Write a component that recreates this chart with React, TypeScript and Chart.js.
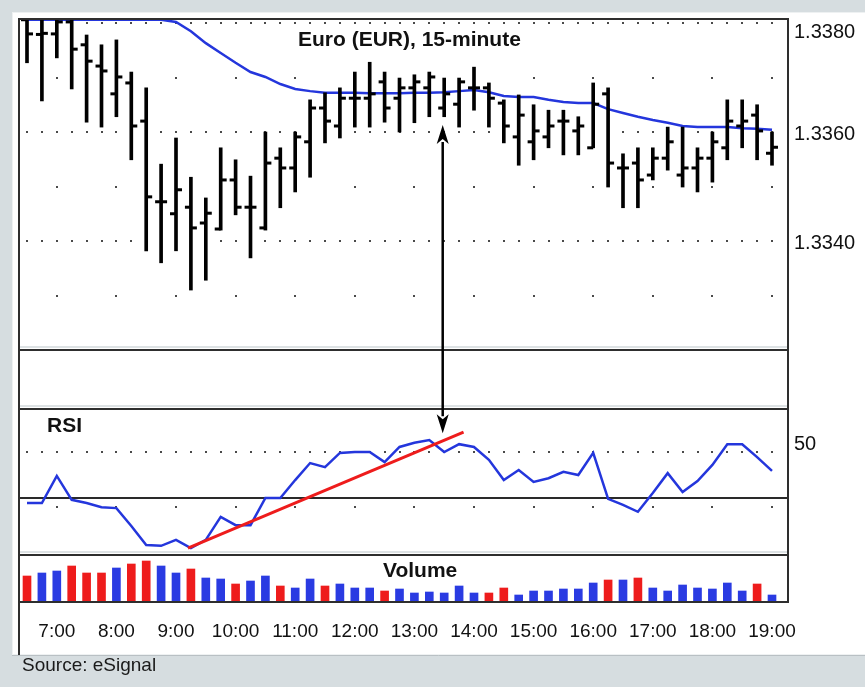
import React, { useEffect, useRef } from 'react';
import { Chart, registerables } from 'chart.js';

Chart.register(...registerables);

// ---------------- DATA ----------------
const hourLabels = ['7:00', '8:00', '9:00', '10:00', '11:00', '12:00', '13:00', '14:00', '15:00', '16:00', '17:00', '18:00', '19:00'];
const FIRST_HOUR_INDEX = 2; // bar index of 7:00 (first bar is 6:30)
const BARS_PER_HOUR = 4; // 15-minute bars

const open = [
  1.33806, 1.33779, 1.3378, 1.33802, 1.3376, 1.33721, 1.3367, 1.3369, 1.3362, 1.33472,
  1.3345, 1.33462, 1.33433, 1.33422, 1.33512, 1.33462, 1.33424, 1.33552, 1.33534, 1.33582,
  1.33644, 1.33611, 1.33662, 1.33662, 1.33692, 1.33662, 1.33681, 1.33681, 1.33644, 1.33651,
  1.33681, 1.33681, 1.33653, 1.33591, 1.33582, 1.33591, 1.3362, 1.33602, 1.33571, 1.3367,
  1.33534, 1.33543, 1.33521, 1.33552, 1.33521, 1.33534, 1.33552, 1.33571, 1.33611, 1.33631,
  1.33561,
];
const high = [
  1.33822, 1.33818, 1.3382, 1.33815, 1.33778, 1.3376, 1.33769, 1.3371, 1.33681, 1.33541,
  1.33589, 1.33517, 1.33479, 1.33571, 1.33549, 1.33519, 1.336, 1.33571, 1.336, 1.33659,
  1.33672, 1.33681, 1.3371, 1.33728, 1.3371, 1.33699, 1.33705, 1.3371, 1.33699, 1.33699,
  1.33719, 1.3369, 1.33659, 1.33668, 1.3365, 1.3364, 1.3364, 1.33628, 1.3369, 1.33681,
  1.3356, 1.33571, 1.33571, 1.33609, 1.33609, 1.33571, 1.336, 1.33659, 1.33659, 1.3365,
  1.336,
];
const low = [
  1.33727, 1.33657, 1.33736, 1.33679, 1.33618, 1.33609, 1.33628, 1.33549, 1.33382, 1.3336,
  1.33382, 1.3331, 1.33328, 1.3342, 1.33448, 1.33369, 1.3342, 1.33461, 1.3349, 1.33517,
  1.3358, 1.33589, 1.33609, 1.33609, 1.33618, 1.336, 1.33617, 1.33628, 1.33628, 1.33609,
  1.3364, 1.33609, 1.3358, 1.33539, 1.33549, 1.33571, 1.33558, 1.33558, 1.33571, 1.33499,
  1.33461, 1.33461, 1.33512, 1.3353, 1.33499, 1.3349, 1.33508, 1.33549, 1.33571, 1.33549,
  1.33539,
];
const close = [
  1.3378, 1.33781, 1.33802, 1.33752, 1.3373, 1.33712, 1.33701, 1.33611, 1.33481, 1.33472,
  1.33494, 1.33424, 1.33451, 1.33512, 1.33462, 1.33462, 1.33543, 1.33534, 1.33591, 1.33644,
  1.3362, 1.33662, 1.33662, 1.3367, 1.33644, 1.33681, 1.33692, 1.33701, 1.3367, 1.33692,
  1.33681, 1.33662, 1.33611, 1.33631, 1.33602, 1.33611, 1.3362, 1.33611, 1.33651, 1.33543,
  1.33534, 1.33512, 1.33552, 1.33582, 1.33534, 1.33552, 1.33582, 1.3362, 1.3362, 1.33602,
  1.33572,
];
const movingAverage = [
  1.33806, 1.33806, 1.33806, 1.33806, 1.33806, 1.33806, 1.33806, 1.33806, 1.33806, 1.33806,
  1.33802, 1.33785, 1.33763, 1.33745, 1.33727, 1.3371, 1.33701, 1.33688, 1.33679, 1.33675,
  1.33672, 1.33672, 1.33672, 1.33671, 1.33671, 1.33671, 1.33672, 1.33672, 1.33673, 1.33675,
  1.33677, 1.33673, 1.33666, 1.33664, 1.33664, 1.33659, 1.33655, 1.33653, 1.33653, 1.33642,
  1.33635, 1.33628, 1.33622, 1.33617, 1.33611, 1.33609, 1.33609, 1.33609, 1.33607, 1.33606,
  1.33604,
];
const rsiValues = [
  38.9, 38.9, 44.8, 39.6, 38.9, 38.0, 37.8, 33.9, 29.8, 29.6,
  30.9, 29.1, 30.9, 35.9, 34.1, 34.1, 40.0, 40.0, 43.9, 47.6,
  46.7, 49.8, 50.0, 50.0, 47.8, 51.1, 52.0, 52.6, 50.0, 51.7,
  51.1, 48.3, 43.9, 46.1, 43.5, 44.3, 45.7, 45.0, 49.8, 39.8,
  38.5, 37.0, 41.1, 45.4, 41.3, 43.7, 47.2, 51.7, 51.7, 48.9,
  45.9,
];
const volumeValues = [
  250, 280, 300, 350, 280, 280, 330, 370, 400, 350,
  280, 320, 230, 220, 170, 200, 250, 150, 130, 220,
  150, 170, 130, 130, 100, 120, 80, 90, 80, 150,
  80, 80, 130, 60, 100, 100, 120, 120, 180, 210,
  210, 230, 130, 100, 160, 130, 120, 180, 100, 170,
  60,
];
const volumeSide = [
  'r', 'b', 'b', 'r', 'r', 'r', 'b', 'r', 'r', 'b',
  'b', 'r', 'b', 'b', 'r', 'b', 'b', 'r', 'b', 'b',
  'r', 'b', 'b', 'b', 'r', 'b', 'b', 'b', 'b', 'b',
  'b', 'r', 'r', 'b', 'b', 'b', 'b', 'b', 'b', 'r',
  'b', 'r', 'b', 'b', 'b', 'b', 'b', 'b', 'b', 'r',
  'b',
];
const trendX = [10.8, 29.3];
const trendRsi = [29.1, 54.3];
const arrowX = [27.9];
const arrowTopPrice = [1.33613];
const arrowBottomRsi = [54.1];

const priceTickLabels = [1.338, 1.336, 1.334];
const rsiTickLabels = [50];
const priceMajorGrid = [1.338, 1.336, 1.334];
const priceMinorGrid = [1.337, 1.335, 1.333];
const rsiMajorGrid = [50];
const rsiMinorGrid = [38];
const rsiLevelLine = [40];

// ---------------- LAYOUT / STYLE ----------------
const W = 865;
const H = 687;
const AREA = { left: 20, top: 18, right: 788, bottom: 603 };
const PANEL_LINES = [350, 409, 555];
const FONT = "'Liberation Sans', Arial, Helvetica, sans-serif";
const BG = '#d6dde0';
const BLUE_LINE = '#2436dc';
const RED = '#ee1c1c';
const BLUE_BAR = '#2a3be2';
const TICK_SHIFT = 0.2;

// map a value range so that two anchor values land on two pixel rows
function fitRange(v1: number, p1: number, v2: number, p2: number, lo: number, hi: number) {
  const k = (p2 - p1) / (v1 - v2);
  return { max: v1 + (p1 - lo) / k, min: v1 - (hi - p1) / k };
}
const priceRange = fitRange(1.338, 23, 1.334, 241, AREA.top, AREA.bottom);
const rsiRange = fitRange(50, 452, 40, 498, AREA.top, AREA.bottom);
const volRange = fitRange(1000, 501, 0, 601, AREA.top, AREA.bottom);
const xPx = 14.9;
const xMin = 0 - (27 - AREA.left) / xPx;
const xMax = 0 + (AREA.right - 27) / xPx;

const decorPlugin = {
  id: 'decor',
  beforeDraw(chart: any) {
    const ctx = chart.ctx;
    ctx.save();
    ctx.fillStyle = BG;
    ctx.fillRect(0, 0, W, H);
    ctx.fillStyle = '#ffffff';
    ctx.fillRect(12, 12, W - 12, 643);
    ctx.strokeStyle = '#eef1f2';
    ctx.lineWidth = 1;
    ctx.strokeRect(12.5, 12.5, W, 642);
    ctx.strokeStyle = '#b9c0c4';
    ctx.beginPath();
    ctx.moveTo(12, 655.5);
    ctx.lineTo(W, 655.5);
    ctx.stroke();
    ctx.restore();
  },
  beforeDatasetsDraw(chart: any) {
    const ctx = chart.ctx;
    const { x, yP, yR } = chart.scales;
    ctx.save();
    ctx.fillStyle = '#4a4a4a';
    const dense = (y: number) => {
      for (let i = 0; i < open.length; i++) {
        const px = x.getPixelForValue(i);
        ctx.fillRect(Math.round(px) - 1, Math.round(y) - 1, 2, 2);
      }
    };
    const sparse = (y: number) => {
      for (let k = 0; k < hourLabels.length; k++) {
        const px = x.getPixelForValue(FIRST_HOUR_INDEX + k * BARS_PER_HOUR);
        ctx.fillRect(Math.round(px) - 1, Math.round(y) - 1, 2, 2);
      }
    };
    priceMajorGrid.forEach((v) => dense(yP.getPixelForValue(v)));
    priceMinorGrid.forEach((v) => sparse(yP.getPixelForValue(v)));
    rsiMajorGrid.forEach((v) => dense(yR.getPixelForValue(v)));
    rsiMinorGrid.forEach((v) => sparse(yR.getPixelForValue(v)));
    // RSI solid level line
    ctx.strokeStyle = '#2a2a2a';
    ctx.lineWidth = 2;
    rsiLevelLine.forEach((v) => {
      const y = Math.round(yR.getPixelForValue(v));
      ctx.beginPath();
      ctx.moveTo(AREA.left, y);
      ctx.lineTo(AREA.right, y);
      ctx.stroke();
    });
    ctx.restore();
  },
  afterDatasetsDraw(chart: any) {
    const ctx = chart.ctx;
    const { x, yP, yR } = chart.scales;
    ctx.save();
    // panel separators
    PANEL_LINES.forEach((y) => {
      ctx.strokeStyle = '#dde2e4';
      ctx.lineWidth = 2;
      ctx.beginPath();
      ctx.moveTo(AREA.left, y - 3);
      ctx.lineTo(AREA.right, y - 3);
      ctx.stroke();
      ctx.strokeStyle = '#2e2e2e';
      ctx.lineWidth = 2;
      ctx.beginPath();
      ctx.moveTo(AREA.left, y);
      ctx.lineTo(AREA.right, y);
      ctx.stroke();
    });
    // frame
    ctx.strokeStyle = '#2e2e2e';
    ctx.lineWidth = 2;
    ctx.beginPath();
    ctx.moveTo(AREA.left - 1, AREA.top + 1);
    ctx.lineTo(AREA.right, AREA.top + 1);
    ctx.moveTo(AREA.right, AREA.top);
    ctx.lineTo(AREA.right, AREA.bottom);
    ctx.moveTo(AREA.left - 1, AREA.bottom - 1);
    ctx.lineTo(AREA.right, AREA.bottom - 1);
    ctx.moveTo(AREA.left - 1, AREA.top);
    ctx.lineTo(AREA.left - 1, 655);
    ctx.stroke();

    // double-headed arrow
    const ax = x.getPixelForValue(arrowX[0]);
    const aTop = yP.getPixelForValue(arrowTopPrice[0]);
    const aBot = yR.getPixelForValue(arrowBottomRsi[0]);
    const headL = 19;
    const headW = 6;
    ctx.strokeStyle = '#000';
    ctx.fillStyle = '#000';
    ctx.lineWidth = 2.5;
    ctx.beginPath();
    ctx.moveTo(ax, aTop + headL - 2);
    ctx.lineTo(ax, aBot - headL + 2);
    ctx.stroke();
    ctx.beginPath();
    ctx.moveTo(ax, aTop);
    ctx.lineTo(ax - headW, aTop + headL);
    ctx.lineTo(ax, aTop + headL - 5);
    ctx.lineTo(ax + headW, aTop + headL);
    ctx.closePath();
    ctx.fill();
    ctx.beginPath();
    ctx.moveTo(ax, aBot);
    ctx.lineTo(ax - headW, aBot - headL);
    ctx.lineTo(ax, aBot - headL + 5);
    ctx.lineTo(ax + headW, aBot - headL);
    ctx.closePath();
    ctx.fill();

    // texts
    ctx.fillStyle = '#111';
    ctx.textBaseline = 'middle';
    ctx.textAlign = 'left';
    ctx.font = `bold 21px ${FONT}`;
    ctx.fillText('Euro (EUR), 15-minute', 298, 40);
    ctx.fillText('RSI', 47, 426);
    ctx.fillText('Volume', 383, 571);

    ctx.font = `20px ${FONT}`;
    priceTickLabels.forEach((v) => {
      const y = Math.max(yP.getPixelForValue(v) + 2, 32);
      ctx.fillText(v.toFixed(4), 794, y);
    });
    rsiTickLabels.forEach((v) => {
      ctx.fillText(String(v), 794, yR.getPixelForValue(v) - 8);
    });

    ctx.font = `19px ${FONT}`;
    ctx.fillStyle = '#1a1a1a';
    ctx.fillText('Source: eSignal', 22, 666);
    ctx.restore();
  },
};

export default function App() {
  const ref = useRef<HTMLCanvasElement>(null);
  useEffect(() => {
    document.body.style.margin = '0';
    document.body.style.overflow = 'hidden';
    const canvas = ref.current;
    if (!canvas) return;
    const idx = open.map((_, i) => i);
    const chart = new Chart(canvas, {
      type: 'scatter',
      data: {
        datasets: [
          {
            type: 'bar',
            label: 'Volume',
            data: idx.map((i) => ({ x: i, y: volumeValues[i] })),
            yAxisID: 'yV',
            backgroundColor: volumeSide.map((s) => (s === 'r' ? RED : BLUE_BAR)),
            barThickness: 8,
            grouped: false,
            order: 6,
          } as any,
          {
            type: 'bar',
            label: 'High-Low',
            data: idx.map((i) => ({ x: i, y: [low[i], high[i]] })),
            yAxisID: 'yP',
            backgroundColor: '#000',
            barThickness: 3,
            grouped: false,
            order: 2,
          } as any,
          {
            type: 'scatter',
            label: 'Open',
            data: idx.map((i) => ({ x: i - TICK_SHIFT, y: open[i] })),
            yAxisID: 'yP',
            pointStyle: 'line',
            pointRadius: 3,
            borderWidth: 3,
            borderColor: '#000',
            order: 1,
          } as any,
          {
            type: 'scatter',
            label: 'Close',
            data: idx.map((i) => ({ x: i + TICK_SHIFT, y: close[i] })),
            yAxisID: 'yP',
            pointStyle: 'line',
            pointRadius: 3,
            borderWidth: 3,
            borderColor: '#000',
            order: 1,
          } as any,
          {
            type: 'line',
            label: 'Moving average',
            data: idx.map((i) => ({ x: i, y: movingAverage[i] })),
            yAxisID: 'yP',
            borderColor: BLUE_LINE,
            borderWidth: 2.5,
            pointRadius: 0,
            tension: 0,
            order: 5,
          } as any,
          {
            type: 'line',
            label: 'RSI',
            data: idx.map((i) => ({ x: i, y: rsiValues[i] })),
            yAxisID: 'yR',
            borderColor: BLUE_LINE,
            borderWidth: 2.5,
            pointRadius: 0,
            tension: 0,
            order: 4,
          } as any,
          {
            type: 'line',
            label: 'Trend',
            data: trendX.map((v, i) => ({ x: v, y: trendRsi[i] })),
            yAxisID: 'yR',
            borderColor: RED,
            borderWidth: 3,
            pointRadius: 0,
            order: 3,
          } as any,
        ],
      },
      options: {
        animation: false,
        responsive: false,
        events: [],
        layout: { padding: { left: AREA.left, top: AREA.top, right: W - AREA.right, bottom: 0 } },
        plugins: { legend: { display: false }, tooltip: { enabled: false }, title: { display: false } },
        scales: {
          x: {
            type: 'linear',
            min: xMin,
            max: xMax,
            bounds: 'data',
            offset: false,
            grid: { display: false, drawTicks: false },
            border: { display: false },
            afterBuildTicks: (s: any) => {
              s.ticks = hourLabels.map((_, k) => ({ value: FIRST_HOUR_INDEX + k * BARS_PER_HOUR }));
            },
            afterFit: (s: any) => {
              s.height = H - AREA.bottom;
            },
            ticks: {
              autoSkip: false,
              maxRotation: 0,
              minRotation: 0,
              padding: 17,
              color: '#111',
              font: { family: FONT, size: 19 },
              callback: (v: any) => {
                const k = Math.round((Number(v) - FIRST_HOUR_INDEX) / BARS_PER_HOUR);
                return hourLabels[k] ?? '';
              },
            },
          },
          yP: { type: 'linear', display: false, bounds: 'data', min: priceRange.min, max: priceRange.max },
          yR: { type: 'linear', display: false, bounds: 'data', min: rsiRange.min, max: rsiRange.max },
          yV: { type: 'linear', display: false, bounds: 'data', min: volRange.min, max: volRange.max },
        },
      } as any,
      plugins: [decorPlugin],
    });
    return () => chart.destroy();
  }, []);
  return (
    <div style={{ width: W, height: H, background: BG, position: 'relative' }}>
      <canvas ref={ref} width={W} height={H} style={{ display: 'block', width: W, height: H }} />
    </div>
  );
}
